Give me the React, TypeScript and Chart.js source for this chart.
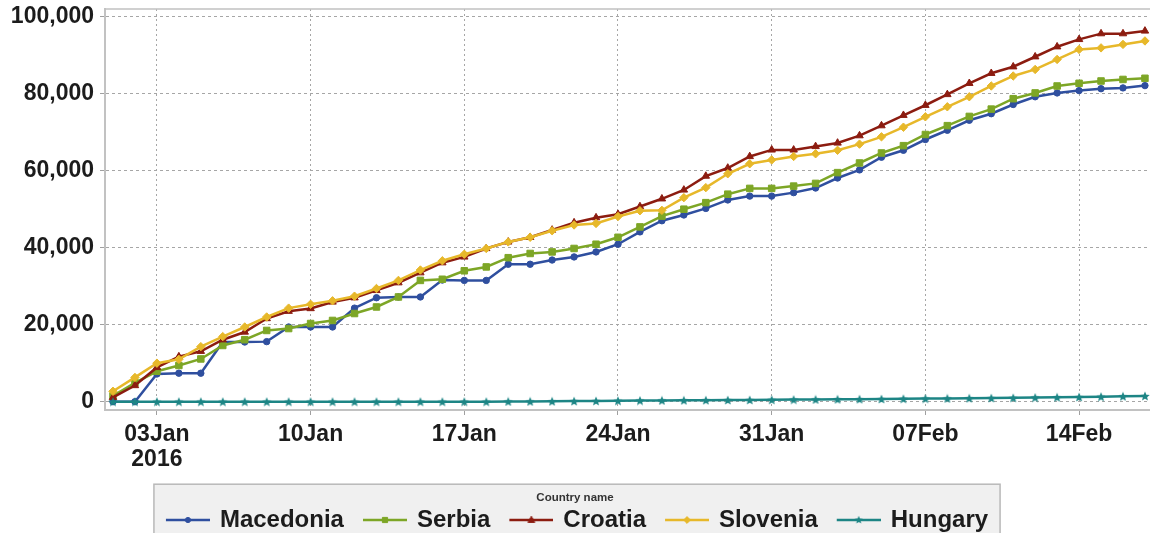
import React, { useEffect, useRef } from 'react';
import { Chart, registerables } from 'chart.js';

Chart.register(...registerables);

const dayLabels = [
  '01Jan', '02Jan', '03Jan', '04Jan', '05Jan', '06Jan', '07Jan', '08Jan', '09Jan', '10Jan',
  '11Jan', '12Jan', '13Jan', '14Jan', '15Jan', '16Jan', '17Jan', '18Jan', '19Jan', '20Jan',
  '21Jan', '22Jan', '23Jan', '24Jan', '25Jan', '26Jan', '27Jan', '28Jan', '29Jan', '30Jan',
  '31Jan', '01Feb', '02Feb', '03Feb', '04Feb', '05Feb', '06Feb', '07Feb', '08Feb', '09Feb',
  '10Feb', '11Feb', '12Feb', '13Feb', '14Feb', '15Feb', '16Feb', '17Feb',
];

const xTickDays = [2, 9, 16, 23, 30, 37, 44];
const xTickLabels: (string | string[])[] = [['03Jan', '2016'], '10Jan', '17Jan', '24Jan', '31Jan', '07Feb', '14Feb'];
const yTicks = [0, 20000, 40000, 60000, 80000, 100000];

const seriesNames = ['Macedonia', 'Serbia', 'Croatia', 'Slovenia', 'Hungary'];

const macedonia = [
  0, 0, 7200, 7400, 7400, 15500, 15500, 15600, 19400, 19400,
  19400, 24300, 27000, 27200, 27200, 31600, 31500, 31500, 35700, 35700,
  36800, 37600, 38900, 40900, 44100, 47000, 48500, 50200, 52400, 53400,
  53400, 54300, 55500, 58100, 60200, 63500, 65300, 68100, 70500, 73100,
  74800, 77200, 79200, 80200, 80800, 81300, 81500, 82100,
];
const serbia = [
  1500, 4900, 7900, 9400, 11100, 14600, 16100, 18500, 19000, 20300,
  21100, 22900, 24600, 27200, 31500, 31800, 34000, 35000, 37400, 38500,
  38900, 39800, 40900, 42700, 45400, 48200, 50000, 51700, 53900, 55400,
  55400, 56000, 56700, 59500, 62000, 64600, 66500, 69400, 71700, 74100,
  76000, 78700, 80200, 82000, 82700, 83300, 83700, 84000,
];
const croatia = [
  1100, 4200, 8900, 11700, 13100, 16100, 18100, 21600, 23500, 24200,
  25900, 27000, 28900, 30900, 33500, 36100, 37600, 39800, 41500, 42700,
  44600, 46500, 47800, 48700, 50700, 52700, 55000, 58600, 60700, 63700,
  65400, 65400, 66300, 67200, 69100, 71700, 74400, 77000, 79800, 82700,
  85300, 87000, 89600, 92200, 94100, 95600, 95600, 96300,
];
const slovenia = [
  2700, 6300, 10000, 11000, 14300, 16900, 19400, 22000, 24300, 25300,
  26200, 27400, 29400, 31500, 34200, 36600, 38300, 39800, 41500, 42700,
  44400, 45900, 46300, 48100, 49600, 49700, 53000, 55600, 59200, 61800,
  62800, 63700, 64400, 65300, 66900, 68800, 71300, 74000, 76600, 79200,
  82000, 84600, 86300, 88900, 91500, 91900, 92800, 93700,
];
const hungary = [
  0, 0, 0, 0, 0, 0, 0, 0, 0, 0,
  0, 0, 0, 0, 0, 0, 0, 0, 50, 80,
  100, 150, 200, 250, 300, 330, 360, 400, 430, 460,
  500, 540, 580, 620, 660, 700, 750, 800, 850, 900,
  950, 1000, 1080, 1150, 1230, 1300, 1400, 1500,
];

const seriesValues = [macedonia, serbia, croatia, slovenia, hungary];
const seriesColors = ['#2f4f9f', '#7da626', '#8c1c10', '#e7b82a', '#1d8585'];
const markerKinds = ['circle', 'rect', 'triangle', 'rectRot', 'star'];
const markerRadius = [3.2, 4.6, 4.3, 4.2, 5];

const FONT = "'Liberation Sans', Arial, Helvetica, sans-serif";
const TEXT = '#1c1c1c';

function drawMarker(ctx: CanvasRenderingContext2D, kind: string, cx: number, cy: number, s: number, color: string) {
  ctx.fillStyle = color;
  ctx.strokeStyle = color;
  ctx.lineWidth = 1;
  ctx.beginPath();
  if (kind === 'circle') {
    ctx.arc(cx, cy, s, 0, Math.PI * 2);
  } else if (kind === 'rect') {
    ctx.rect(cx - s, cy - s, 2 * s, 2 * s);
  } else if (kind === 'triangle') {
    ctx.moveTo(cx, cy - s * 1.1);
    ctx.lineTo(cx + s, cy + s * 0.7);
    ctx.lineTo(cx - s, cy + s * 0.7);
    ctx.closePath();
  } else if (kind === 'rectRot') {
    ctx.moveTo(cx, cy - s);
    ctx.lineTo(cx + s, cy);
    ctx.lineTo(cx, cy + s);
    ctx.lineTo(cx - s, cy);
    ctx.closePath();
  } else {
    for (let k = 0; k < 10; k++) {
      const a = -Math.PI / 2 + (k * Math.PI) / 5;
      const r = k % 2 ? s * 0.45 : s;
      const px = cx + r * Math.cos(a);
      const py = cy + r * Math.sin(a);
      if (k === 0) ctx.moveTo(px, py);
      else ctx.lineTo(px, py);
    }
    ctx.closePath();
  }
  ctx.fill();
  if (kind !== 'star') ctx.stroke();
}

function makeStar(color: string, size: number) {
  const c = document.createElement('canvas');
  c.width = size;
  c.height = size;
  const ctx = c.getContext('2d')!;
  drawMarker(ctx, 'star', size / 2, size / 2 + 0.5, size / 2, color);
  return c;
}

function makeSample(kind: string, color: string) {
  const c = document.createElement('canvas');
  c.width = 50;
  c.height = 14;
  const ctx = c.getContext('2d')!;
  ctx.strokeStyle = color;
  ctx.lineWidth = 2.5;
  ctx.beginPath();
  ctx.moveTo(6, 7);
  ctx.lineTo(50, 7);
  ctx.stroke();
  const sizes: Record<string, number> = { circle: 2.6, rect: 2.6, triangle: 3.4, rectRot: 3.4, star: 4.2 };
  drawMarker(ctx, kind, 28, 7, sizes[kind], color);
  return c;
}

const framePlugin = {
  id: 'frame',
  beforeDraw(chart: any) {
    const ctx = chart.ctx;
    ctx.save();
    ctx.fillStyle = '#ffffff';
    ctx.fillRect(0, 0, chart.width, chart.height);
    const lg = chart.legend;
    if (lg && lg.legendHitBoxes && lg.legendHitBoxes.length) {
      const hb = lg.legendHitBoxes;
      const last = hb[hb.length - 1];
      const left = hb[0].left - 8;
      const right = last.left + last.width + 12;
      const top = lg.top - 8;
      ctx.fillStyle = '#f0f0f0';
      ctx.fillRect(left, top, right - left, chart.height - top + 10);
      ctx.strokeStyle = '#b8b8b8';
      ctx.lineWidth = 1.5;
      ctx.strokeRect(left, top, right - left, chart.height - top + 10);
    }
    ctx.restore();
  },
  beforeDatasetsDraw(chart: any) {
    const { ctx, chartArea } = chart;
    ctx.save();
    ctx.strokeStyle = '#c0c0c0';
    ctx.lineWidth = 1.5;
    ctx.beginPath();
    ctx.moveTo(chartArea.left, chartArea.top);
    ctx.lineTo(chartArea.right, chartArea.top);
    ctx.stroke();
    ctx.restore();
  },
};

export default function App() {
  const ref = useRef<HTMLCanvasElement | null>(null);

  useEffect(() => {
    if (!ref.current) return;
    const starImg = makeStar(seriesColors[4], 10);
    const legendImgs = markerKinds.map((k, i) => makeSample(k, seriesColors[i]));

    const datasets = seriesNames.map((name, s) => ({
      label: name,
      data: seriesValues[s].map((v, i) => ({ x: dayLabels.indexOf(dayLabels[i]), y: v })),
      borderColor: seriesColors[s],
      backgroundColor: seriesColors[s],
      pointBackgroundColor: seriesColors[s],
      pointBorderColor: seriesColors[s],
      borderWidth: 2.5,
      pointBorderWidth: 1,
      pointStyle: s === 4 ? starImg : markerKinds[s],
      pointRadius: markerRadius[s],
      tension: 0,
      fill: false,
      order: 4 - s,
    }));

    const chart = new Chart(ref.current, {
      type: 'line',
      data: { datasets: datasets as any },
      options: {
        responsive: false,
        animation: false,
        events: [],
        layout: { autoPadding: false, padding: { top: 9, left: 0, right: 0, bottom: 0 } },
        scales: {
          x: {
            type: 'linear',
            min: -0.364,
            max: 47.23,
            afterBuildTicks: (sc: any) => {
              sc.ticks = xTickDays.map((v) => ({ value: v }));
            },
            afterFit: (sc: any) => {
              sc.height = 82.2;
              sc.paddingLeft = 0;
              sc.paddingRight = 0;
            },
            ticks: {
              autoSkip: false,
              maxRotation: 0,
              minRotation: 0,
              padding: 7,
              color: TEXT,
              font: { family: FONT, size: 23, weight: 'bold', lineHeight: 1.1 },
              callback: (v: any) => {
                const k = xTickDays.indexOf(Number(v));
                return k >= 0 ? xTickLabels[k] : '';
              },
            },
            grid: { color: '#a6a6a6', lineWidth: 1, tickLength: 5, tickColor: '#a0a0a0', drawTicks: true },
            border: { display: true, color: '#c2c2c2', width: 2, dash: [2, 3] },
          },
          y: {
            type: 'linear',
            min: -2160,
            max: 102000,
            afterBuildTicks: (sc: any) => {
              sc.ticks = yTicks.map((v) => ({ value: v }));
            },
            afterFit: (sc: any) => {
              sc.width = 105;
              sc.paddingTop = 0;
              sc.paddingBottom = 0;
            },
            ticks: {
              padding: 6,
              color: TEXT,
              font: { family: FONT, size: 23, weight: 'bold' },
              callback: (v: any) => Number(v).toLocaleString('en-US'),
            },
            grid: { color: '#a6a6a6', lineWidth: 1, tickLength: 5, tickColor: '#a0a0a0', drawTicks: true },
            border: { display: true, color: '#c2c2c2', width: 2, dash: [3, 3] },
          },
        },
        plugins: {
          tooltip: { enabled: false },
          legend: {
            display: true,
            position: 'bottom',
            align: 'center',
            onClick: () => {},
            title: {
              display: true,
              text: 'Country name',
              color: '#333333',
              font: { family: FONT, size: 11.5, weight: 'bold', lineHeight: 1.2 },
              padding: { top: 0, bottom: -13 },
            },
            labels: {
              usePointStyle: true,
              pointStyleWidth: 46,
              padding: 15,
              color: TEXT,
              font: { family: FONT, size: 24, weight: 'bold' },
              generateLabels: () =>
                seriesNames.map((n, i) => ({
                  text: n,
                  pointStyle: legendImgs[i],
                  fillStyle: seriesColors[i],
                  strokeStyle: seriesColors[i],
                  lineWidth: 0,
                  hidden: false,
                  datasetIndex: i,
                  fontColor: TEXT,
                })) as any,
            },
          },
        },
      } as any,
      plugins: [framePlugin],
    });

    return () => chart.destroy();
  }, []);

  return (
    <div style={{ position: 'fixed', left: 0, top: 0, width: 1150, height: 533, overflow: 'hidden', background: '#fff' }}>
      <canvas ref={ref} width={1150} height={542} style={{ display: 'block' }} />
    </div>
  );
}
